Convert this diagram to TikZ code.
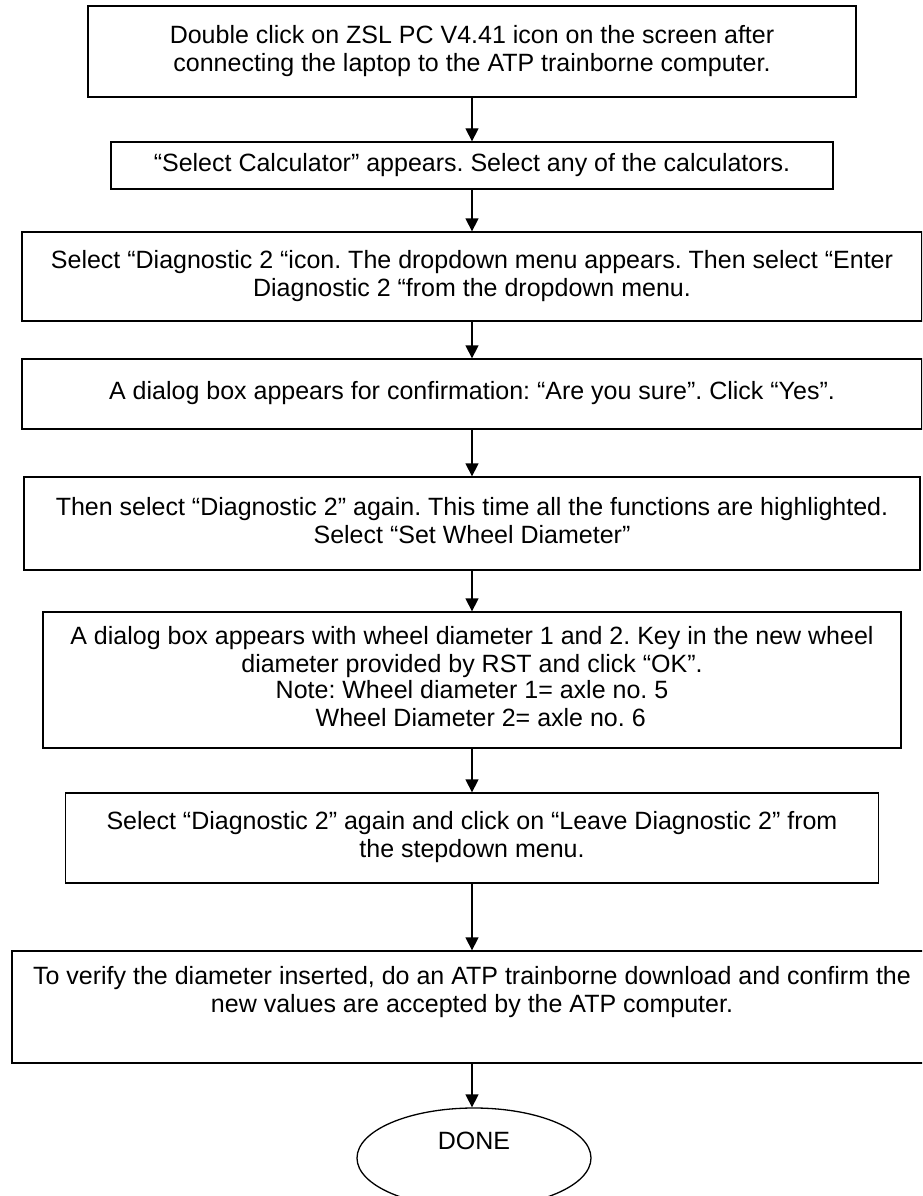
\documentclass[tikz,border=0pt]{standalone}
\usepackage{fontspec}
\setmainfont{Liberation Sans}
\frenchspacing
\usetikzlibrary{arrows.meta,shapes.geometric}
\begin{document}
\begin{tikzpicture}[x=1pt,y=-1pt,
  stepbox/.style={draw=black, line width=1.3pt, rectangle, inner sep=0pt,
    align=center, font=\fontsize{25}{28}\selectfont},
  endoval/.style={draw=black, line width=1.3pt, ellipse, inner sep=0pt,
    align=center, font=\fontsize{25}{28}\selectfont},
  flow/.style={line width=1.3pt, -{Triangle[length=13pt,width=13pt]}}]
\useasboundingbox (0,0) rectangle (922,1196);
\clip (0,0) rectangle (922,1196);

% process steps
\node[stepbox, minimum width=768pt, minimum height=91pt] (b1) at (472,51.5)
  {\strut Double click on ZSL PC V4.41 icon on the screen after\\
   connecting the laptop to the ATP trainborne computer.\strut};
\node[stepbox, minimum width=722pt, minimum height=47pt] (b2) at (472,165.5)
  {\strut “Select Calculator” appears. Select any of the calculators.};
\node[stepbox, minimum width=900pt, minimum height=89pt] (b3) at (472,276.5)
  {\strut Select “Diagnostic 2 “icon. The dropdown menu appears. Then select “Enter\\
   Diagnostic 2 “from the dropdown menu.\strut};
\node[stepbox, minimum width=900pt, minimum height=70pt] (b4) at (472,394)
  {\strut A dialog box appears for confirmation: “Are you sure”. Click “Yes”.};
\node[stepbox, minimum width=896pt, minimum height=93pt] (b5) at (472,523.5)
  {\strut Then select “Diagnostic 2” again. This time all the functions are highlighted.\\
   Select “Set Wheel Diameter”\strut};
\node[stepbox, minimum width=858pt, minimum height=136pt] (b6) at (472,680)
  {\strut A dialog box appears with wheel diameter 1 and 2. Key in the new wheel\\
   diameter provided by RST and click “OK”.\\
   \begin{tabular}{@{}l@{}}Note: Wheel diameter 1= axle no. 5\\
   \hspace*{40pt}Wheel Diameter 2= axle no. 6\strut\end{tabular}};
\node[stepbox, minimum width=813pt, minimum height=90pt] (b7) at (472,838)
  {\strut Select “Diagnostic 2” again and click on “Leave Diagnostic 2” from\\
   the stepdown menu.\strut};
\node[stepbox, minimum width=920pt, minimum height=112pt] (b8) at (472,1007)
  {\strut To verify the diameter inserted, do an ATP trainborne download and confirm the\\
   new values are accepted by the ATP computer.\\ \strut};

% terminator
\node[endoval, minimum width=234pt, minimum height=100pt] (done) at (474,1158)
  {\strut DONE\\ \strut};

% connectors
\draw[flow] (b1.south) -- (b2.north);
\draw[flow] (b2.south) -- (b3.north);
\draw[flow] (b3.south) -- (b4.north);
\draw[flow] (b4.south) -- (b5.north);
\draw[flow] (b5.south) -- (b6.north);
\draw[flow] (b6.south) -- (b7.north);
\draw[flow] (b7.south) -- (b8.north);
\draw[flow] (b8.south) -- (b8.south |- done.north);
\end{tikzpicture}
\end{document}
